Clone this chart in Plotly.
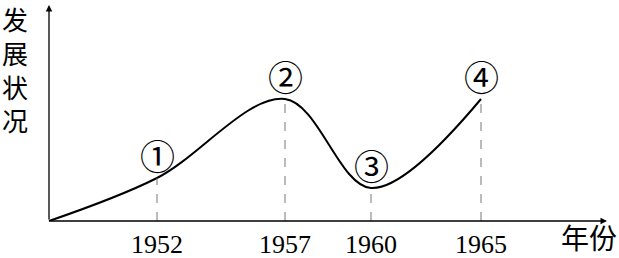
import plotly.graph_objects as go

# schematic data (x = position along the time axis, y = development level)
years = ["", "1952", "1957", "1960", "1965"]
xpos = [0, 108, 236, 322, 432]
level = [0, 43, 122, 33, 122]
marks = ["", "①", "②", "③", "④"]
y_title = "发<br>展<br>状<br>况"
x_title = "年份"

fig = go.Figure()
fig.add_trace(go.Scatter(x=xpos, y=level, mode="lines",
                         line=dict(color="black", width=2, shape="spline", smoothing=1.0),
                         hoverinfo="skip", showlegend=False))

# dashed guides and labels
for xp, lv, yr, mk in zip(xpos, level, years, marks):
    if not yr:
        continue
    fig.add_shape(type="line", x0=xp, x1=xp, y0=0, y1=lv,
                  line=dict(color="#777", width=1, dash="dash"))
    fig.add_annotation(x=xp, y=0, yshift=-23, text=yr, showarrow=False,
                       font=dict(family="Liberation Serif", size=26, color="black"))
    fig.add_annotation(x=xp, y=lv, yshift=20, text=mk, showarrow=False,
                       font=dict(family="DejaVu Serif, Noto Sans CJK SC", size=35, color="black"))

# axes with arrows
fig.add_annotation(x=558, y=0, ax=0, ay=0, xref="x", yref="y", axref="x", ayref="y",
                   showarrow=True, arrowhead=2, arrowsize=1, arrowwidth=1.3, arrowcolor="black", text="")
fig.add_annotation(x=0, y=216, ax=0, ay=0, xref="x", yref="y", axref="x", ayref="y",
                   showarrow=True, arrowhead=2, arrowsize=1, arrowwidth=1.3, arrowcolor="black", text="")

fig.add_annotation(x=-49, y=221, xanchor="left", yanchor="top", yshift=2, text=y_title, showarrow=False,
                   align="left", font=dict(family="Noto Sans CJK SC", size=26, color="black"))
fig.add_annotation(x=570, y=-37, xanchor="right", yanchor="bottom", yshift=-1, text=x_title, showarrow=False,
                   font=dict(family="Noto Sans CJK SC", size=28, color="black"))

fig.update_layout(width=619, height=258, margin=dict(l=0, r=0, t=0, b=0),
                  paper_bgcolor="white", plot_bgcolor="white",
                  xaxis=dict(range=[-49, 570], visible=False, fixedrange=True),
                  yaxis=dict(range=[-37, 221], visible=False, fixedrange=True))
fig.write_html("out.html")
